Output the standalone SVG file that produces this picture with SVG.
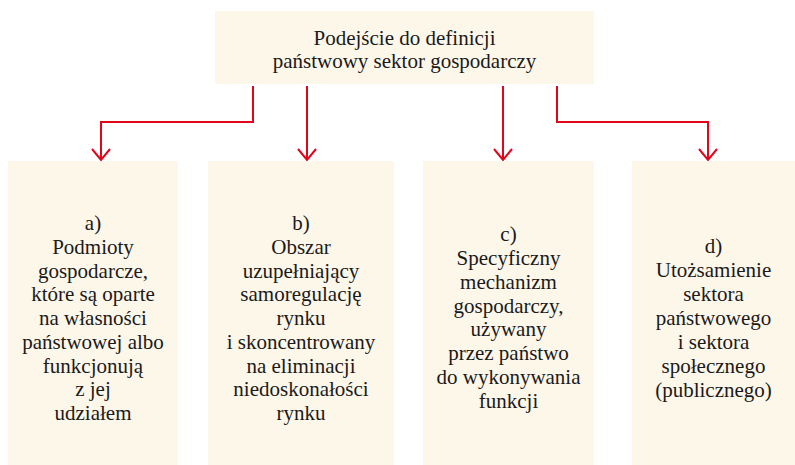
<svg xmlns="http://www.w3.org/2000/svg" width="795" height="465" viewBox="0 0 795 465">
<defs>
<style>
.box{fill:#fdf7ea}
.t{font-size:21px;fill:#1a1a1a;text-anchor:middle}
.c{fill:none;stroke:#e2061b;stroke-width:2}
</style>
<marker id="ah" viewBox="0 0 14 20" refX="12" refY="10" markerWidth="14" markerHeight="20" markerUnits="userSpaceOnUse" orient="auto">
<path d="M1,1 L12,10 L1,19" fill="none" stroke="#e2061b" stroke-width="2"/>
</marker>
</defs>
<rect width="795" height="465" fill="#ffffff"/>
<g font-family="Liberation Serif, Times New Roman, DejaVu Serif, serif">
<g id="root">
<rect class="box" x="215" y="11" width="379" height="73"/>
<text class="t" x="404.5" y="45">Podejście do definicji</text>
<text class="t" x="404.5" y="68">państwowy sektor gospodarczy</text>
</g>
<g id="connectors">
<polyline class="c" points="253,86 253,122 101,122 101,160" marker-end="url(#ah)"/>
<line class="c" x1="307" y1="86" x2="307" y2="160" marker-end="url(#ah)"/>
<line class="c" x1="503" y1="86" x2="503" y2="160" marker-end="url(#ah)"/>
<polyline class="c" points="557,86 557,122 708,122 708,160" marker-end="url(#ah)"/>
</g>
<g id="node-a">
<rect class="box" x="8" y="161" width="170" height="304"/>
<text class="t" x="93" y="230">a)</text>
<text class="t" x="93" y="253.75">Podmioty</text>
<text class="t" x="93" y="277.5">gospodarcze,</text>
<text class="t" x="93" y="301.25">które są oparte</text>
<text class="t" x="93" y="325">na własności</text>
<text class="t" x="93" y="348.75">państwowej albo</text>
<text class="t" x="93" y="372.5">funkcjonują</text>
<text class="t" x="93" y="396.25">z jej</text>
<text class="t" x="93" y="420">udziałem</text>
</g>
<g id="node-b">
<rect class="box" x="208" y="161" width="186" height="304"/>
<text class="t" x="301" y="230">b)</text>
<text class="t" x="301" y="253.75">Obszar</text>
<text class="t" x="301" y="277.5">uzupełniający</text>
<text class="t" x="301" y="301.25">samoregulację</text>
<text class="t" x="301" y="325">rynku</text>
<text class="t" x="301" y="348.75">i skoncentrowany</text>
<text class="t" x="301" y="372.5">na eliminacji</text>
<text class="t" x="301" y="396.25">niedoskonałości</text>
<text class="t" x="301" y="420">rynku</text>
</g>
<g id="node-c">
<rect class="box" x="423" y="161" width="171" height="304"/>
<text class="t" x="508.5" y="241">c)</text>
<text class="t" x="508.5" y="264.9">Specyficzny</text>
<text class="t" x="508.5" y="288.7">mechanizm</text>
<text class="t" x="508.5" y="312.6">gospodarczy,</text>
<text class="t" x="508.5" y="336.4">używany</text>
<text class="t" x="508.5" y="360.3">przez państwo</text>
<text class="t" x="508.5" y="384.1">do wykonywania</text>
<text class="t" x="508.5" y="408">funkcji</text>
</g>
<g id="node-d">
<rect class="box" x="632" y="161" width="163" height="304"/>
<text class="t" x="713.5" y="253">d)</text>
<text class="t" x="713.5" y="277">Utożsamienie</text>
<text class="t" x="713.5" y="301">sektora</text>
<text class="t" x="713.5" y="325">państwowego</text>
<text class="t" x="713.5" y="349">i sektora</text>
<text class="t" x="713.5" y="373">społecznego</text>
<text class="t" x="713.5" y="397">(publicznego)</text>
</g>
</g>
</svg>
